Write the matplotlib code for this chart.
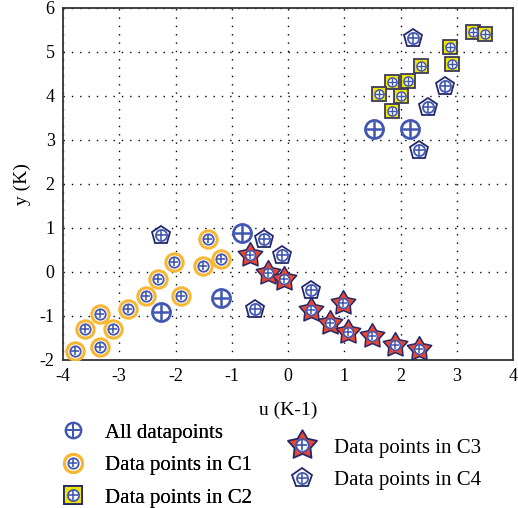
import matplotlib
matplotlib.use("Agg")
import matplotlib.pyplot as plt
from matplotlib.lines import Line2D
from matplotlib.path import Path
import numpy as np

plt.rcParams['font.family'] = ['Liberation Serif', 'DejaVu Serif']

# ---- data ----
c1_u = [-3.79, -3.35, -3.61, -3.11, -3.35, -2.85, -2.52, -2.31, -1.91, -2.03, -1.51, -1.43, -1.19]
c1_y = [-1.80, -1.70, -1.30, -1.30, -0.95, -0.83, -0.54, -0.16, -0.54, 0.23, 0.14, 0.75, 0.30]

c2_u = [3.29, 3.50, 2.88, 2.92, 2.36, 1.85, 2.13, 1.61, 2.00, 1.85]
c2_y = [5.46, 5.42, 5.12, 4.73, 4.69, 4.31, 4.35, 4.04, 4.00, 3.67]

c3_u = [-0.68, -0.35, -0.07, 0.40, 0.97, 0.75, 1.07, 1.49, 1.91, 2.33]
c3_y = [0.39, -0.03, -0.17, -0.86, -0.71, -1.15, -1.36, -1.45, -1.66, -1.76]

c4_u = [-2.25, -0.42, -0.11, -0.59, 0.40, 2.23, 2.79, 2.48, 2.32]
c4_y = [0.84, 0.76, 0.39, -0.83, -0.41, 5.31, 4.23, 3.74, 2.77]

noise_u = [-2.25, -1.19, -0.81, 1.53, 2.17]
noise_y = [-0.90, -0.60, 0.88, 3.24, 3.24]

xticks = [-4, -3, -2, -1, 0, 1, 2, 3, 4]
yticks = [-2, -1, 0, 1, 2, 3, 4, 5, 6]

BLUE = '#4257b2'
ORANGE = '#f7b733'
YELLOW = '#f2e600'
RED = '#ea4630'
NAVY = '#23296b'

STAR = Path.unit_regular_star(5, innerCircle=0.55)

fig = plt.figure(figsize=(5.18, 5.08), dpi=100)
ax = fig.add_axes([63/518, 1-360/508, 450/518, 352/508])


def oplus(ax, u, y, ms, mew, z):
    ax.plot(u, y, ls='none', marker='o', ms=ms, mfc='white', mec=BLUE, mew=mew, zorder=z)
    ax.plot(u, y, ls='none', marker='+', ms=ms - mew, mec=BLUE, mew=mew * 0.9, zorder=z + 0.1)


# C1: orange circles
ax.plot(c1_u, c1_y, ls='none', marker='o', ms=12.5, mfc='white', mec=ORANGE, mew=2.2, zorder=3)
oplus(ax, c1_u, c1_y, 7.5, 1.3, 3.5)
# C2: yellow squares
ax.plot(c2_u, c2_y, ls='none', marker='s', ms=10.5, mfc=YELLOW, mec='#3c3c5c', mew=1.3, zorder=3)
oplus(ax, c2_u, c2_y, 6.5, 1.1, 3.5)
# C3: red stars
ax.plot(c3_u, c3_y, ls='none', marker=STAR, ms=18.5, mfc=RED, mec=NAVY, mew=1.1, zorder=3)
oplus(ax, c3_u, c3_y, 7.0, 1.2, 3.5)
# C4: pentagons
ax.plot(c4_u, c4_y, ls='none', marker='p', ms=13.5, mfc='white', mec=NAVY, mew=1.3, zorder=3)
oplus(ax, c4_u, c4_y, 8.0, 1.3, 3.5)
# unassigned datapoints
oplus(ax, noise_u, noise_y, 13, 2.0, 3)

ax.set_xlim(-4, 4)
ax.set_ylim(-2, 6)
ax.set_xticks(xticks)
ax.set_yticks(yticks)
ax.set_xticklabels([str(t) for t in xticks])
ax.set_yticklabels([str(t) for t in yticks])
ax.tick_params(length=0, labelsize=13, pad=6)
ax.grid(True, color='black', linestyle=(0, (1, 5)), linewidth=1.0)
for s in ax.spines.values():
    s.set_linewidth(1.3)
    s.set_color('#333333')
ax.set_xlabel('u (K-1)', fontsize=14, labelpad=12)
ax.set_ylabel('y (K)', fontsize=14, labelpad=6)


def hnd(shape):
    hs = []
    if shape == 'c1':
        hs.append(Line2D([], [], ls='none', marker='o', ms=13, mfc='white', mec=ORANGE, mew=2.2))
        inner = (7.5, 1.3)
    elif shape == 'c2':
        hs.append(Line2D([], [], ls='none', marker='s', ms=13, mfc=YELLOW, mec=NAVY, mew=1.3))
        inner = (8, 1.3)
    elif shape == 'c3':
        hs.append(Line2D([], [], ls='none', marker=STAR, ms=22, mfc=RED, mec=NAVY, mew=1.3))
        inner = (9, 1.4)
    elif shape == 'c4':
        hs.append(Line2D([], [], ls='none', marker='p', ms=15, mfc='white', mec=NAVY, mew=1.3))
        inner = (8, 1.3)
    else:
        inner = (11, 1.6)
    ms, mew = inner
    hs.append(Line2D([], [], ls='none', marker='o', ms=ms, mfc='white', mec=BLUE, mew=mew))
    hs.append(Line2D([], [], ls='none', marker='+', ms=ms - mew, mec=BLUE, mew=mew * 0.9))
    return tuple(hs)


leg_kw = dict(loc='upper left', frameon=False, fontsize=15, handlelength=1.5,
              handletextpad=0.8, labelspacing=0.62, borderpad=0, borderaxespad=0)
leg1 = fig.legend([hnd('all'), hnd('c1'), hnd('c2')],
                  ['All datapoints', 'Data points in C1', 'Data points in C2'],
                  bbox_to_anchor=(57/518, 1-423/508), **leg_kw)
leg2 = fig.legend([hnd('c3'), hnd('c4')],
                  ['Data points in C3', 'Data points in C4'],
                  bbox_to_anchor=(286/518, 1-438/508), **leg_kw)
fig.add_artist(leg1)

fig.savefig('out.png', dpi=100)
